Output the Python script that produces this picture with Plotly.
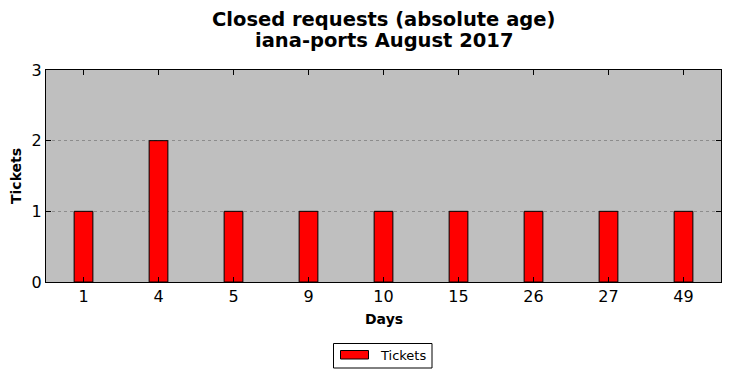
import plotly.graph_objects as go

days = ["1", "4", "5", "9", "10", "15", "26", "27", "49"]
tickets = [1, 2, 1, 1, 1, 1, 1, 1, 1]

title_lines = ["Closed requests (absolute age)", "iana-ports August 2017"]
series_name = "Tickets"
bar_color = "#ff0000"

# plot area in pixels (for placing text / legend)
L, R, T, B = 46, 721, 70, 282
PW, PH = R - L, B - T


def px(x):
    return (x - L) / PW


def py(y):
    return (B - y) / PH


fig = go.Figure()
fig.add_trace(go.Bar(
    x=days, y=tickets, name=series_name, width=0.25,
    marker=dict(color=bar_color, line=dict(color="black", width=1)),
    showlegend=False,
))

fig.update_layout(
    width=730, height=378,
    margin=dict(l=L, r=730 - R, t=T, b=378 - B, autoexpand=False),
    paper_bgcolor="white", plot_bgcolor="#bfbfbf",
    font=dict(family="DejaVu Sans", color="black"),
    xaxis=dict(
        type="category", range=[-0.5, 8.5], automargin=False,
        showline=True, linecolor="black", linewidth=1, mirror="allticks",
        ticks="inside", ticklen=5, tickcolor="black",
        tickfont=dict(size=16), showgrid=False,
    ),
    yaxis=dict(
        range=[0, 3], tickvals=[0, 1, 2, 3], automargin=False,
        showline=True, linecolor="black", linewidth=1, mirror="allticks",
        ticks="inside", ticklen=5, tickcolor="black",
        tickfont=dict(size=16),
        showgrid=True, gridcolor="#8c8c8c", griddash="dot", gridwidth=1,
        zeroline=False,
    ),
)

# Title (two bold lines)
fig.add_annotation(text="<b>" + title_lines[0] + "</b>", xref="paper", yref="paper",
                   x=0.5, y=py(20), xanchor="center", yanchor="middle",
                   showarrow=False, font=dict(size=19.5))
fig.add_annotation(text="<b>" + title_lines[1] + "</b>", xref="paper", yref="paper",
                   x=0.5, y=py(41), xanchor="center", yanchor="middle",
                   showarrow=False, font=dict(size=19.5))
# Axis titles
fig.add_annotation(text="<b>Days</b>", xref="paper", yref="paper",
                   x=0.5, y=py(319), xanchor="center", yanchor="middle",
                   showarrow=False, font=dict(size=14))
fig.add_annotation(text="<b>Tickets</b>", xref="paper", yref="paper",
                   x=px(16), y=0.5, xanchor="center", yanchor="middle",
                   textangle=-90, showarrow=False, font=dict(size=14))

# Legend (box, patch, label)
fig.add_shape(type="rect", xref="paper", yref="paper",
              x0=px(333.5), x1=px(432), y0=py(343.5), y1=py(368),
              line=dict(color="black", width=1), fillcolor="white", layer="above")
fig.add_shape(type="rect", xref="paper", yref="paper",
              x0=px(340.5), x1=px(368.5), y0=py(350.5), y1=py(359),
              line=dict(color="black", width=1), fillcolor=bar_color, layer="above")
fig.add_annotation(text=series_name, xref="paper", yref="paper",
                   x=px(378), y=py(355.5), xanchor="left", yanchor="middle",
                   showarrow=False, font=dict(size=13))

fig.write_html("out.html", config={"displayModeBar": False},
               post_script="document.body.style.margin='0';document.body.style.overflow='hidden';")
